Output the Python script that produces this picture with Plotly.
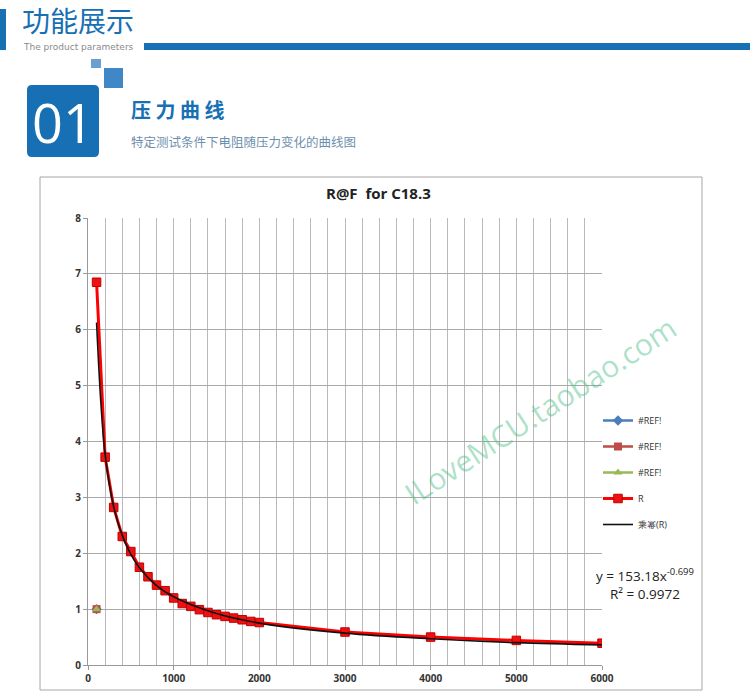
import plotly.graph_objects as go

# data
force = [100, 200, 300, 400, 500, 600, 700, 800, 900, 1000, 1100, 1200, 1300,
         1400, 1500, 1600, 1700, 1800, 1900, 2000, 3000, 4000, 5000, 6000]
resistance = [6.85, 3.72, 2.82, 2.30, 2.03, 1.75, 1.58, 1.43, 1.33, 1.20, 1.10, 1.05, 0.99,
              0.94, 0.90, 0.87, 0.84, 0.81, 0.78, 0.76, 0.59, 0.50, 0.44, 0.39]

# power trendline as drawn (black curve)
trend_x = [100, 150, 200, 300, 400, 500, 600, 800, 1000, 1500, 2000, 3000, 4000, 5000, 6000]
trend_y = [6.13, 4.70, 3.77, 2.83, 2.32, 1.98, 1.74, 1.42, 1.22, 0.92, 0.75, 0.57, 0.47, 0.40, 0.36]

ref_x = [100]
ref_y = [1.0]

# figure geometry (pixels)
W, H = 750, 700
ML, MR, MT, MB = 88, 148, 218, 35
BLUE = "#1770b4"
GRID = "#b9b9b9"


def px(x):
    return (x - ML) / (W - ML - MR)


def py(y):
    return (H - MB - y) / (H - MT - MB)


fig = go.Figure()

ref_styles = [("#4a7ebb", "diamond"), ("#be4b48", "square"), ("#98b954", "triangle-up")]
for i, (c, sym) in enumerate(ref_styles):
    fig.add_trace(go.Scatter(
        x=ref_x, y=ref_y, name="#REF!", mode="lines+markers",
        line=dict(color=c, width=2.5),
        marker=dict(color=c, symbol=sym, size=8),
        legendgroup=f"g{i}"
    ))

fig.add_trace(go.Scatter(
    x=force, y=resistance, name="R", mode="lines+markers",
    line=dict(color="#ff0000", width=3),
    marker=dict(color="#ee1111", symbol="square", size=8.5,
                line=dict(color="#c00000", width=1)),
    legendgroup="g3"
))

fig.add_trace(go.Scatter(
    x=trend_x, y=trend_y, name="乘幂(R)", mode="lines",
    line=dict(color="#111111", width=1.6, shape="spline"),
    legendgroup="g4"
))

shapes = []
# chart frame
shapes.append(dict(type="rect", xref="paper", yref="paper",
                   x0=px(40), x1=px(702), y0=py(690), y1=py(177),
                   line=dict(color="#a6a6a6", width=1), layer="below"))
# header: left bar and long rule
shapes.append(dict(type="rect", xref="paper", yref="paper",
                   x0=px(0), x1=px(6), y0=py(50), y1=py(9),
                   fillcolor=BLUE, line_width=0))
shapes.append(dict(type="rect", xref="paper", yref="paper",
                   x0=px(144), x1=px(750), y0=py(50), y1=py(43),
                   fillcolor=BLUE, line_width=0))
# small decorative squares
shapes.append(dict(type="rect", xref="paper", yref="paper",
                   x0=px(91), x1=px(101), y0=py(68), y1=py(59),
                   fillcolor="#6aa0d0", line_width=0))
shapes.append(dict(type="rect", xref="paper", yref="paper",
                   x0=px(104), x1=px(123), y0=py(88), y1=py(68),
                   fillcolor="#3f87c6", line_width=0))


# big rounded square behind "01"
def rounded(x0, y0, x1, y1, r):
    p = [
        f"M {px(x0 + r)},{py(y0)}",
        f"L {px(x1 - r)},{py(y0)}",
        f"Q {px(x1)},{py(y0)} {px(x1)},{py(y0 + r)}",
        f"L {px(x1)},{py(y1 - r)}",
        f"Q {px(x1)},{py(y1)} {px(x1 - r)},{py(y1)}",
        f"L {px(x0 + r)},{py(y1)}",
        f"Q {px(x0)},{py(y1)} {px(x0)},{py(y1 - r)}",
        f"L {px(x0)},{py(y0 + r)}",
        f"Q {px(x0)},{py(y0)} {px(x0 + r)},{py(y0)} Z",
    ]
    return " ".join(p)


shapes.append(dict(type="path", xref="paper", yref="paper",
                   path=rounded(27, 85, 99, 157, 5),
                   fillcolor=BLUE, line_width=0))

CJK = "Noto Sans CJK SC"
annotations = [
    dict(text="功能展示", x=px(20), y=py(20), xanchor="left", yanchor="middle",
         font=dict(family=CJK, size=28, color=BLUE)),
    dict(text="The product parameters", x=px(21), y=py(47),
         xanchor="left", yanchor="middle",
         font=dict(family="DejaVu Sans", size=9, color="#8a8a8a")),
    dict(text="01", x=px(63), y=py(122), xanchor="center", yanchor="middle",
         font=dict(family="Open Sans", size=54, color="white")),
    dict(text="压 力 曲 线", x=px(129), y=py(110), xanchor="left", yanchor="middle",
         font=dict(family=CJK, size=20, color=BLUE, weight="bold")),
    dict(text="特定测试条件下电阻随压力变化的曲线图", x=px(129), y=py(141),
         xanchor="left", yanchor="middle",
         font=dict(family=CJK, size=12.5, color="#6d8fae")),
    dict(text="R@F  for C18.3", x=px(378), y=py(193), xanchor="center", yanchor="middle",
         font=dict(family="Open Sans", size=15, color="#222222", weight="bold")),
    dict(text="y = 153.18x<sup>-0.699</sup>", x=px(645), y=py(575), xanchor="center",
         yanchor="middle", font=dict(family="Open Sans", size=13.5, color="#222222")),
    dict(text="R² = 0.9972", x=px(645), y=py(594), xanchor="center", yanchor="middle",
         font=dict(family="Open Sans", size=13.5, color="#222222")),
    dict(text="ILoveMCU.taobao.com", x=px(540), y=py(410), xanchor="center",
         yanchor="middle", textangle=-33,
         font=dict(family="Open Sans", size=30, color="rgba(70,190,130,0.45)")),
]

for a in annotations:
    a.update(xref="paper", yref="paper", showarrow=False)

fig.update_layout(
    width=W, height=H,
    margin=dict(l=ML, r=MR, t=MT, b=MB, autoexpand=False),
    paper_bgcolor="white", plot_bgcolor="white",
    shapes=shapes, annotations=annotations,
    showlegend=True,
    legend=dict(x=px(598), y=py(406), xanchor="left", yanchor="top",
                font=dict(family="Open Sans", size=9, color="#333333"),
                tracegroupgap=7, itemwidth=30, bgcolor="rgba(0,0,0,0)"),
    xaxis=dict(range=[0, 6000], dtick=1000, showgrid=True, gridcolor=GRID,
               minor=dict(dtick=200, showgrid=True, gridcolor=GRID),
               showline=True, linecolor="#999999", ticks="outside", ticklen=4,
               tickcolor="#999999", zeroline=False,
               tickfont=dict(family="Open Sans", size=10, color="#333333", weight="bold")),
    yaxis=dict(range=[0, 8], dtick=1, showgrid=True, gridcolor="#a9a9a9",
               showline=True, linecolor="#999999", ticks="outside", ticklen=4,
               tickcolor="#999999", zeroline=False,
               tickfont=dict(family="Open Sans", size=10, color="#333333", weight="bold")),
)

fig.write_html("out.html", config={"displayModeBar": False},
               post_script="document.body.style.margin='0px';")
